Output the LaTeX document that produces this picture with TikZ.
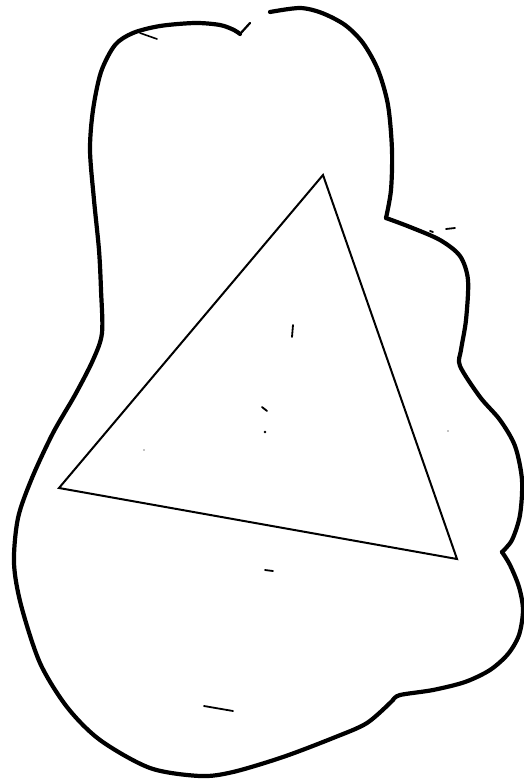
\documentclass[tikz,border=0pt]{standalone}
\begin{document}
\begin{tikzpicture}[x=1pt,y=-1pt,
  outline/.style={line width=4.2pt,line cap=round,line join=round,black},
  tri/.style={line width=2pt,line join=miter,black},
  speck/.style={line width=1.8pt,line cap=round,black}]
\useasboundingbox (0,0) rectangle (524,781);
% outline of the blob
\draw[outline] plot[smooth] coordinates {(270,12) (300,8) (322,13) (345,25) (363,43) (378,70) (388,105) (392,150) (391,190) (386,218)};
\draw[outline] plot[smooth] coordinates {(386,218) (410,227) (440,240) (460,256) (468,280) (466,320) (461,350) (460,366) (480,397) (500,420) (515,446) (522,480) (520,515) (512,540) (502,552)};
\draw[outline] plot[smooth] coordinates {(502,552) (510,565) (519,587) (523,610) (519,635) (508,654) (490,670) (465,682) (433,690) (400,695) (393,700)};
\draw[outline] plot[smooth] coordinates {(393,700) (367,723) (333,738) (283,757) (233,772) (200,776) (150,768) (100,740) (67,707) (40,663) (21,605) (14,563) (18,518) (32,478) (53,433) (75,395) (93,360) (102,333) (101,290) (99,250) (94,200) (90,150) (93,110) (101,72) (115,45) (133,33) (160,26) (195,23) (220,25) (234,30) (240,34)};
\draw[line width=2.2pt,line cap=round] (240,34) -- (250,23);
\draw[line width=1.6pt,line cap=round] (140,33) -- (157,39);
% triangle
\coordinate (A) at (323,175);
\coordinate (B) at (59,488);
\coordinate (C) at (457,559);
\draw[tri] (A) -- (B) -- (C) -- cycle;
% specks
\draw[speck] (293,325) -- (292,337);
\draw[speck] (262,407) -- (267,411);
\fill (265,432) circle (1.4pt);
\draw[speck] (265,570) -- (273,571);
\draw[speck] (204,706) -- (233,711);
\draw[speck] (430,231) -- (433,232);
\draw[speck] (446,229) -- (455,228);
\fill (144,450) circle (0.6pt);
\fill (448,431) circle (0.6pt);
\end{tikzpicture}
\end{document}
